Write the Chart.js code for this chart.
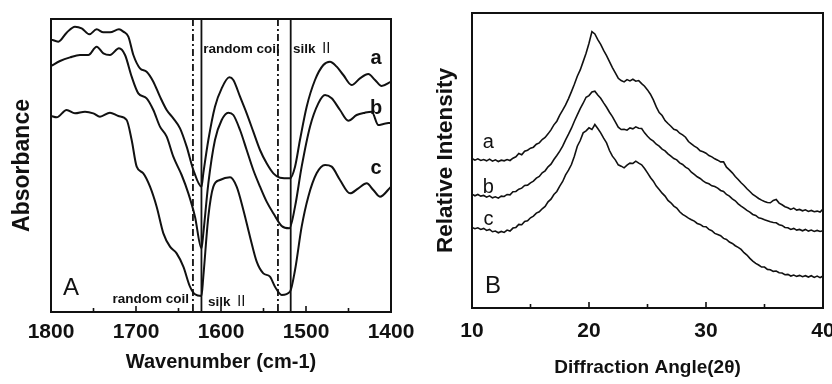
<!DOCTYPE html>
<html><head><meta charset="utf-8">
<script src="https://cdn.jsdelivr.net/npm/chart.js@4/dist/chart.umd.min.js"></script>
<style>
html,body{margin:0;padding:0;background:#fff;overflow:hidden;width:832px;height:384px;}
#wa{position:absolute;left:0;top:0;width:440px;height:384px;z-index:1;}
#wb{position:absolute;left:420px;top:0;width:430px;height:384px;z-index:2;}
</style></head>
<body>
<div id="wa"><canvas id="ca" width="440" height="384"></canvas></div>
<div id="wb"><canvas id="cb" width="430" height="384"></canvas></div>
<script>
// ---------- Panel A: FTIR (wavenumber, absorbance a.u.) ----------
const ftirA = [[1800,81.8],[1791.4,81.1],[1781.6,83.8],[1771.8,85.6],[1763.9,85.1],[1754.9,83.3],[1746.3,84.8],[1738.4,83.9],[1730.6,83.9],[1720,84.8],[1714.9,84.1],[1709,82.6],[1703.1,77.1],[1695.3,73.1],[1687.5,72.1],[1679.6,69.1],[1671.8,64.6],[1663.9,60.6],[1656.1,58.1],[1648.2,55.1],[1640.4,49.6],[1632.5,42.6],[1623,37.6],[1620.8,41.6],[1614.9,51.6],[1607.1,61.6],[1599.2,67.1],[1590.2,70.4],[1585.5,69.6],[1577.6,64.6],[1569.8,59.6],[1562,54.1],[1554.1,48.6],[1546.3,44.6],[1538.4,41.6],[1530.6,40.3],[1518.8,40.1],[1512.9,43.6],[1507.1,51.6],[1499.2,61.6],[1489.4,69.6],[1479.6,74.1],[1471.8,75.1],[1463.9,73.6],[1456.1,71.1],[1446.3,68.1],[1436.5,70.1],[1426.7,71.4],[1418.8,69.6],[1411,67.8],[1400,69.1]];
const ftirB = [[1800,73.8],[1789.4,75.3],[1777.6,76.4],[1765.9,77.1],[1756.1,77.1],[1746.3,79.6],[1738.4,77.6],[1730.6,77.1],[1720,79.1],[1712.9,77.1],[1705.1,70.6],[1697.3,65.6],[1687.5,64.1],[1679.6,60.6],[1671.8,55.6],[1663.9,52.6],[1656.1,46.6],[1646.3,41.1],[1638.4,35.6],[1630.6,28.6],[1623,19.1],[1620.8,23.6],[1614.9,38.6],[1607.1,51.6],[1599.2,57.6],[1591.4,59.8],[1585.5,59.1],[1577.6,54.6],[1569.8,48.6],[1562,42.6],[1554.1,37.6],[1546.3,33.1],[1538.4,29.6],[1528.6,25.8],[1519.6,25.1],[1512.9,31.6],[1505.1,43.6],[1495.3,55.6],[1485.5,62.6],[1477.6,65.1],[1469.8,64.1],[1460,60.6],[1450.2,57.4],[1440.4,59.1],[1430.6,59.8],[1422.7,60.1],[1414.9,56.1],[1409,56.4],[1400,56.8]];
const ftirC = [[1800,58.8],[1793.3,58.4],[1781.6,60.6],[1771.8,59.6],[1760,60.1],[1750.2,59.6],[1742.4,58.6],[1730.6,59.8],[1720.8,58.8],[1711,57.6],[1705.1,51.6],[1699.2,43.6],[1691.4,41.6],[1683.5,37.6],[1675.7,31.6],[1667.8,23.6],[1660,19.6],[1652.2,17.6],[1644.3,13.6],[1636.5,7.6],[1630.6,5.3],[1623,4.8],[1620.8,10.6],[1614.9,28.6],[1609,37.6],[1601.2,39.6],[1589.4,40.4],[1581.6,37.6],[1573.7,30.6],[1565.9,22.6],[1558,15.1],[1550.2,11.6],[1542.4,10.6],[1536.5,7.6],[1528.6,5.1],[1518.8,6.1],[1512.9,12.6],[1505.1,25.6],[1497.3,34.6],[1487.5,41.6],[1477.6,44.1],[1469.8,43.6],[1460,39.6],[1448.2,35.6],[1438.4,37.1],[1428.6,38.6],[1420.8,36.6],[1413,34.6],[1400,37.6]];
const ftirMajorTicks = [1800,1700,1600,1500,1400];
const ftirMinorTicks = [1750,1650,1550,1450];
const ftirSolidLines = [1623,1518];
const ftirDashDotLines = [1633,1533];

// ---------- Panel B: XRD (2theta, relative intensity a.u.) ----------
const xrdAngles = Array.from({length:121},(_,i)=>10+i*0.25);
const xrdA = [44.9,44.4,44.8,44.3,44.6,44.2,44.7,44.1,44.5,44.0,44.4,44.2,
44.6,44.3,45.0,45.4,46.4,46.0,47.1,47.4,48.0,48.3,49.2,49.6,
50.6,51.2,52.3,53.5,55.0,56.1,57.9,59.4,61.0,62.9,65.0,67.2,
69.6,71.5,74.0,76.5,79.5,83.0,82.3,80.6,79.2,77.4,75.8,74.0,
72.2,70.6,69.0,68.3,67.9,68.6,68.2,68.7,68.1,68.3,67.4,66.6,
65.5,64.2,62.5,60.4,58.7,57.8,56.3,55.4,54.6,53.7,53.4,52.5,
52.0,51.3,50.0,49.3,48.6,48.1,47.2,46.9,46.5,45.8,45.4,44.8,
44.4,43.9,43.9,42.3,41.5,40.6,39.5,38.6,37.6,36.8,35.8,35.0,
34.1,33.5,32.9,32.4,32.0,31.7,31.6,32.3,32.6,31.5,31.0,30.4,
30.1,29.6,30.0,29.4,29.6,29.2,29.5,29.0,29.3,28.9,29.1,28.8,
29.7];
const xrdB = [34.2,33.7,34.1,33.6,33.8,33.3,33.7,33.1,33.4,33.0,33.6,33.5,
34.1,34.0,34.9,35.0,35.7,36.0,36.8,36.9,37.6,38.1,39.0,39.5,
40.6,41.2,42.4,43.2,44.6,45.8,47.1,48.6,50.5,52.2,54.0,56.1,
58.0,59.9,61.5,63.3,63.8,64.9,65.1,64.0,63.0,61.6,60.3,58.8,
57.5,55.9,54.3,53.6,53.7,53.4,54.1,53.8,54.4,54.0,53.9,52.6,
51.6,50.7,50.1,49.2,48.6,47.7,47.2,46.3,45.6,44.9,44.5,43.6,
43.1,42.3,41.8,40.8,40.1,39.4,38.9,38.2,37.6,37.3,36.7,36.5,
36.0,35.3,35.0,34.1,33.6,32.8,32.2,31.3,30.6,30.0,29.3,28.8,
28.1,27.8,27.1,26.9,26.5,26.2,25.9,25.7,25.6,25.0,24.8,24.2,
24.1,23.6,23.9,23.4,23.6,23.2,23.6,23.1,23.4,23.0,23.3,23.0,
23.2];
const xrdC = [24.2,23.8,24.1,23.6,23.9,23.3,23.6,22.9,23.1,22.6,23.0,22.7,
23.4,23.1,24.0,24.2,25.1,25.0,26.0,26.2,27.1,27.6,28.5,28.9,
29.8,30.5,31.9,32.7,34.1,35.0,36.6,38.0,40.0,41.4,43.1,45.6,
48.6,50.3,52.6,53.2,54.1,53.6,55.1,53.9,52.6,51.0,49.6,47.3,
45.6,44.5,43.0,42.6,42.1,42.9,43.5,43.4,44.1,43.5,43.0,41.9,
40.6,39.2,38.1,36.6,35.6,34.5,33.6,32.3,31.6,30.6,30.0,28.9,
28.1,27.6,27.0,26.5,26.1,25.4,25.1,24.5,24.4,23.6,23.2,22.4,
22.1,21.7,20.9,20.6,19.8,19.4,18.7,18.2,17.6,16.6,15.9,14.9,
14.1,13.4,12.9,12.3,12.3,11.6,11.5,11.0,11.1,10.6,10.5,10.0,
10.1,9.6,9.9,9.5,9.8,9.4,9.7,9.3,9.7,9.2,9.6,9.1,
9.6];
const xrdMajorTicks = [10,20,30,40];
const xrdMinorTicks = [15,25,35];

const INK = '#111';
const SANS = "'Liberation Sans', Arial, sans-serif";
Chart.defaults.font.family = SANS;
Chart.defaults.color = INK;

// text annotations, positioned in data units
const ftirNotes = [
  {text:'a', x:1417.6, y:76.1, font:'bold 20px '+SANS, align:'center'},
  {text:'b', x:1417.6, y:61.1, font:'bold 20px '+SANS, align:'center'},
  {text:'c', x:1417.6, y:43.1, font:'bold 20px '+SANS, align:'center'},
  {text:'A', x:1776.5, y:7.2, font:'24px '+SANS, align:'center'},
  {parts:[['random coil','bold 13.5px '+SANS]], x:1621, y:78.9, align:'left'},
  {parts:[['silk ','bold 13.5px '+SANS],['Ⅱ',"14px 'Liberation Serif','Noto Sans CJK SC', serif"]], x:1515.3, y:78.9, align:'left'},
  {parts:[['random coil','bold 13.5px '+SANS]], x:1637.6, y:3.9, align:'right'},
  {parts:[['silk ','bold 13.5px '+SANS],['Ⅱ',"14px 'Liberation Serif','Noto Sans CJK SC', serif"]], x:1615.3, y:3.0, align:'left'}
];
const xrdNotes = [
  {text:'a', x:11.4, y:49.6, font:'20px '+SANS, align:'center'},
  {text:'b', x:11.4, y:36.1, font:'20px '+SANS, align:'center'},
  {text:'c', x:11.4, y:26.5, font:'20px '+SANS, align:'center'},
  {text:'B', x:11.8, y:6.4, font:'24px '+SANS, align:'center'}
];

const framePlugin = {
  id:'frame',
  afterDatasetsDraw(chart, args, o){
    const {ctx, chartArea:{left,right,top,bottom}, scales:{x,y}} = chart;
    ctx.save();
    ctx.strokeStyle = INK;
    ctx.lineWidth = 1.8;
    (o.solid||[]).forEach(v=>{
      const px = x.getPixelForValue(v);
      ctx.setLineDash([]);
      ctx.beginPath(); ctx.moveTo(px,top); ctx.lineTo(px,bottom); ctx.stroke();
    });
    (o.dashdot||[]).forEach(v=>{
      const px = x.getPixelForValue(v);
      ctx.setLineDash([7,3,2,3]);
      ctx.beginPath(); ctx.moveTo(px,top); ctx.lineTo(px,bottom); ctx.stroke();
    });
    ctx.setLineDash([]);
    ctx.lineWidth = 2;
    ctx.strokeRect(left,top,right-left,bottom-top);
    ctx.lineWidth = 1.6;
    (o.major||[]).forEach(v=>{const px=x.getPixelForValue(v);ctx.beginPath();ctx.moveTo(px,bottom);ctx.lineTo(px,bottom-6);ctx.stroke();});
    (o.minor||[]).forEach(v=>{const px=x.getPixelForValue(v);ctx.beginPath();ctx.moveTo(px,bottom);ctx.lineTo(px,bottom-4);ctx.stroke();});
    ctx.fillStyle = INK;
    ctx.textBaseline = 'middle';
    (o.notes||[]).forEach(n=>{
      const px = x.getPixelForValue(n.x), py = y.getPixelForValue(n.y);
      if (n.text){ ctx.font=n.font; ctx.textAlign=n.align; ctx.fillText(n.text,px,py); return; }
      let w=0; n.parts.forEach(p=>{ctx.font=p[1]; w+=ctx.measureText(p[0]).width;});
      let cx = n.align==='right' ? px-w : px;
      ctx.textAlign='left';
      n.parts.forEach(p=>{ctx.font=p[1]; ctx.fillText(p[0],cx,py); cx+=ctx.measureText(p[0]).width;});
    });
    ctx.restore();
  }
};

function lineDs(pairs, w, smooth){
  return {data:pairs.map(p=>({x:p[0],y:p[1]})), borderColor:INK, borderWidth:w, pointRadius:0,
          fill:false, tension: smooth?0.4:0, cubicInterpolationMode: smooth?'monotone':'default'};
}
const zip = (xs,ys)=>xs.map((v,i)=>[v,ys[i]]);
const plain = v => String(v);

new Chart(document.getElementById('ca'), {
  type:'line',
  data:{datasets:[lineDs(ftirA,2,true), lineDs(ftirB,2,true), lineDs(ftirC,2,true)]},
  plugins:[framePlugin],
  options:{
    responsive:false, animation:false, events:[],
    layout:{padding:{top:19,right:49,bottom:0,left:0}},
    plugins:{legend:{display:false}, tooltip:{enabled:false},
      frame:{solid:ftirSolidLines, dashdot:ftirDashDotLines, major:ftirMajorTicks, minor:ftirMinorTicks, notes:ftirNotes}},
    scales:{
      x:{type:'linear', reverse:true, min:1400, max:1800,
         grid:{display:false, drawTicks:false, tickLength:0}, border:{display:false},
         ticks:{stepSize:100, padding:8, maxRotation:0, color:INK, font:{size:21, weight:'bold'}, callback:plain},
         title:{display:true, text:'Wavenumber (cm-1)', color:INK, font:{size:20, weight:'bold'}, padding:{top:0,bottom:10}},
         afterFit(s){ s.height = 72; }},
      y:{type:'linear', min:0, max:87.9,
         grid:{display:false, drawTicks:false, tickLength:0}, border:{display:false},
         ticks:{display:false},
         title:{display:true, text:'Absorbance', color:INK, font:{size:23, weight:'bold'}, padding:{top:9,bottom:0}},
         afterFit(s){ s.width = 51; }}
    }
  }
});

new Chart(document.getElementById('cb'), {
  type:'line',
  data:{datasets:[lineDs(zip(xrdAngles,xrdA),1.6,false), lineDs(zip(xrdAngles,xrdB),1.6,false), lineDs(zip(xrdAngles,xrdC),1.6,false)]},
  plugins:[framePlugin],
  options:{
    responsive:false, animation:false, events:[],
    layout:{padding:{top:13,right:27,bottom:0,left:0}},
    plugins:{legend:{display:false}, tooltip:{enabled:false},
      frame:{major:xrdMajorTicks, minor:xrdMinorTicks, notes:xrdNotes}},
    scales:{
      x:{type:'linear', min:10, max:40,
         grid:{display:false, drawTicks:false, tickLength:0}, border:{display:false},
         ticks:{stepSize:10, padding:11, maxRotation:0, color:INK, font:{size:21, weight:'bold'}, callback:plain},
         title:{display:true, text:'Diffraction Angle(2θ)', color:INK, font:{size:19, weight:'bold'}, padding:{top:0,bottom:5}},
         afterFit(s){ s.height = 76; }},
      y:{type:'linear', min:0, max:88.6,
         grid:{display:false, drawTicks:false, tickLength:0}, border:{display:false},
         ticks:{display:false},
         title:{display:true, text:'Relative Intensity', color:INK, font:{size:22.5, weight:'bold'}, padding:{top:12,bottom:0}},
         afterFit(s){ s.width = 52; }}
    }
  }
});
</script>
</body></html>
